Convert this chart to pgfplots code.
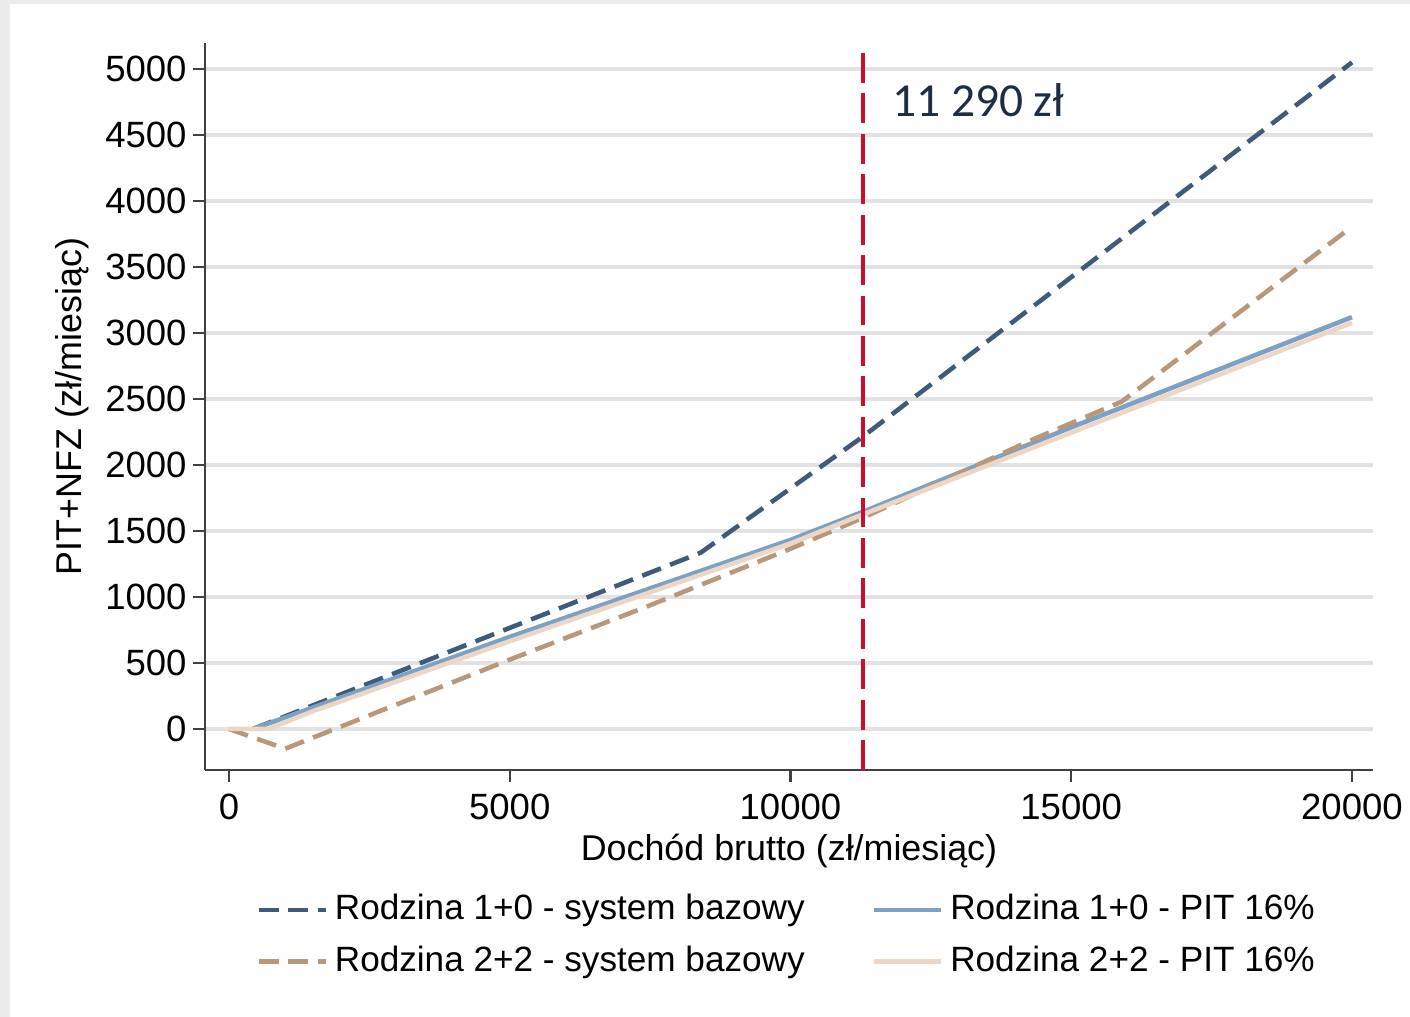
\documentclass[border=0pt]{standalone}
\usepackage{fontspec}
\setmainfont{Liberation Sans}
\newfontfamily\calibri{Carlito}
\usepackage{pgfplots}
\pgfplotsset{compat=1.18}

\definecolor{navyd}{HTML}{3E5B7B}
\definecolor{bluel}{HTML}{7DA1C4}
\definecolor{tand}{HTML}{B9977A}
\definecolor{beigel}{HTML}{EDD6C4}
\definecolor{redv}{HTML}{C8102E}
\definecolor{labnavy}{HTML}{1E2D43}
\definecolor{gridg}{HTML}{E2E2E2}
\definecolor{bgg}{HTML}{ECECEC}

\begin{document}
\begin{tikzpicture}
\path[use as bounding box] (-20.5mm,-24.7mm) rectangle (120.5mm,77.0mm);
\fill[bgg] (-20.5mm,-24.7mm) rectangle (120.5mm,77.0mm);
\fill[white] (-19.5mm,-24.7mm) rectangle (120.5mm,76.6mm);
\begin{axis}[
    scale only axis,
    width=116.8mm, height=72.7mm,
    xmin=-427, xmax=20374,
    ymin=-311, ymax=5197,
    axis lines=left,
    axis line style={-, draw=black!75, line width=0.6pt},
    xtick={0,5000,...,20000},
    ytick={0,500,...,5000},
    scaled x ticks=false,
    scaled y ticks=false,
    tick align=outside,
    major tick length=1.2mm,
    tick style={draw=black!75, line width=0.6pt},
    ymajorgrids,
    grid style={draw=gridg, line width=0.9pt},
    /pgf/number format/assume math mode=true,
    /pgf/number format/1000 sep={},
    ticklabel style={font=\fontsize{10.4}{12}\selectfont},
    yticklabel style={xshift=0.6mm},
    xlabel={Dochód brutto (zł/miesiąc)},
    ylabel={PIT+NFZ (zł/miesiąc)},
    label style={font=\fontsize{10.2}{12}\selectfont},
    xlabel style={yshift=1.0mm},
    ylabel style={yshift=-0.8mm},
    legend columns=2,
    legend cell align=left,
    legend style={draw=none, fill=none, at={(0.5,-0.151)}, anchor=north,
        font=\fontsize{10}{12}\selectfont,
        /tikz/every even column/.append style={column sep=6mm},
        row sep=2pt},
    legend image code/.code={\draw[#1] (0mm,0mm) -- (6.7mm,0mm);},
]
\addplot[navyd, line width=1.3pt, dash pattern=on 5.7pt off 2.8pt] coordinates {
    (430,0) (8400,1335) (11290,2215) (20000,5050)
};
\addlegendentry{Rodzina 1+0 - system bazowy}

\addplot[bluel, line width=1.3pt] coordinates {
    (430,0) (1500,163) (5000,697) (10000,1432) (11290,1645) (15000,2285) (20000,3120)
};
\addlegendentry{Rodzina 1+0 - PIT 16\%}

\addplot[tand, line width=1.3pt, dash pattern=on 5.7pt off 2.8pt] coordinates {
    (0,0) (1000,-150) (5000,525) (7400,920) (10000,1365) (11290,1600)
    (14300,2190) (15900,2480) (20000,3805)
};
\addlegendentry{Rodzina 2+2 - system bazowy}

\addplot[beigel, line width=1.3pt] coordinates {
    (0,0) (700,0) (1500,135) (5000,665) (10000,1405) (11290,1625) (15000,2245) (20000,3077)
};
\addlegendentry{Rodzina 2+2 - PIT 16\%}

\addplot[redv, line width=1.2pt, dash pattern=on 8.5pt off 3pt, forget plot] coordinates {
    (11290,-311) (11290,5197)
};
\node[anchor=base west, inner sep=0pt, text=labnavy, font=\calibri\fontsize{13.5}{16}\selectfont]
    at (axis cs:11800,4640) {11 290 zł};
\end{axis}
\end{tikzpicture}
\end{document}
